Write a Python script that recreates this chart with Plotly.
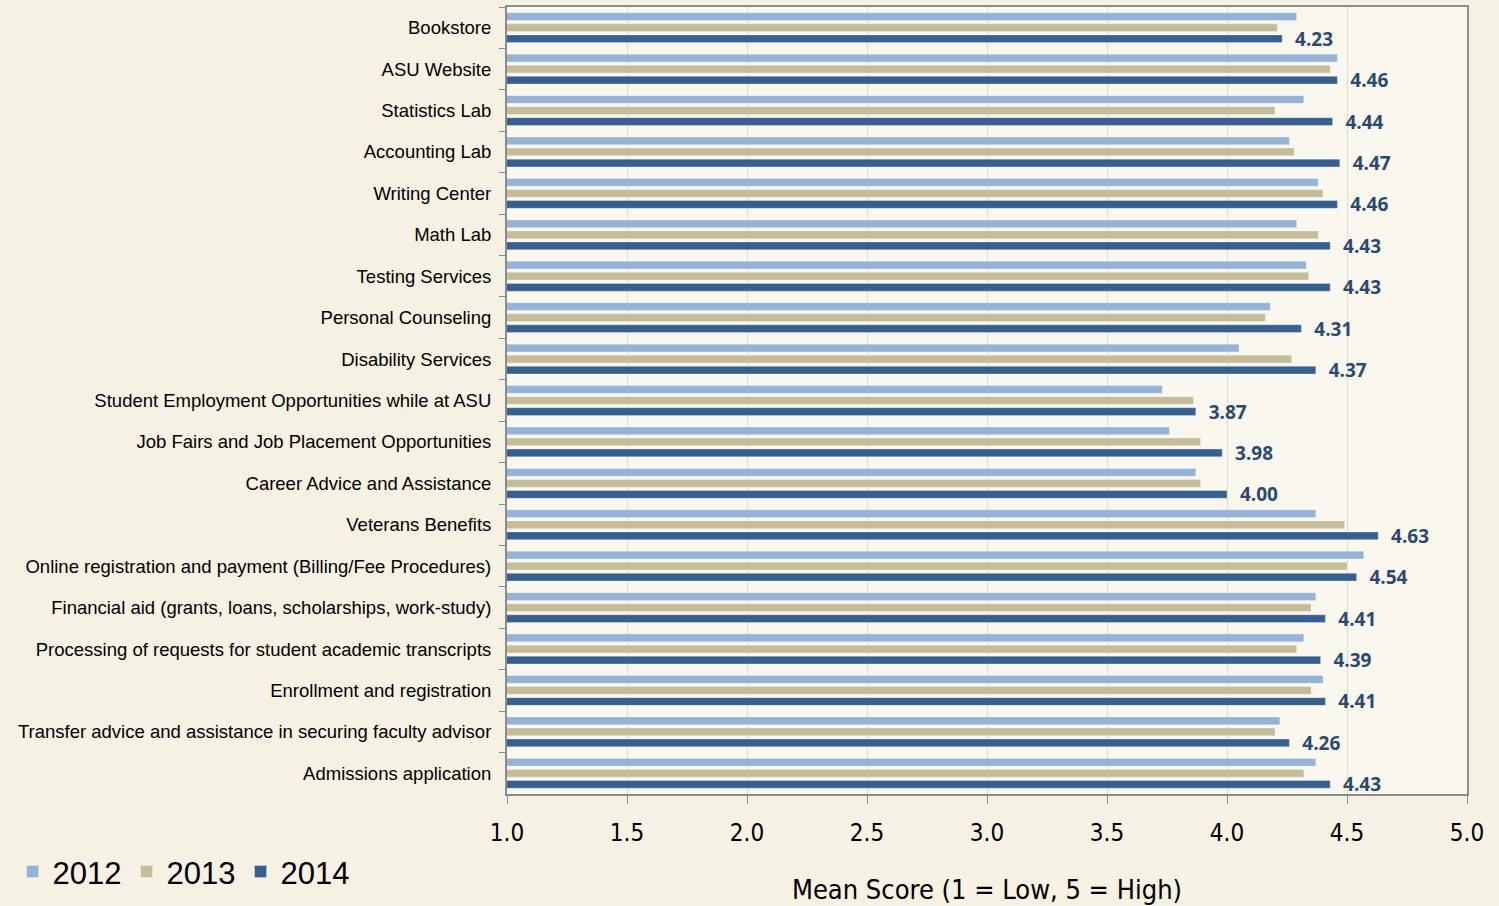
"""Mean satisfaction scores by service, 2012-2014."""

import plotly.graph_objects as go

categories = [
    "Bookstore",
    "ASU Website",
    "Statistics Lab",
    "Accounting Lab",
    "Writing Center",
    "Math Lab",
    "Testing Services",
    "Personal Counseling",
    "Disability Services",
    "Student Employment Opportunities while at ASU",
    "Job Fairs and Job Placement Opportunities",
    "Career Advice and Assistance",
    "Veterans Benefits",
    "Online registration and payment (Billing/Fee Procedures)",
    "Financial aid (grants, loans, scholarships, work-study)",
    "Processing of requests for student academic transcripts",
    "Enrollment and registration",
    "Transfer advice and assistance in securing faculty advisor",
    "Admissions application",
]

scores_2012 = [4.29, 4.46, 4.32, 4.26, 4.38, 4.29, 4.33, 4.18, 4.05, 3.73,
               3.76, 3.87, 4.37, 4.57, 4.37, 4.32, 4.40, 4.22, 4.37]
scores_2013 = [4.21, 4.43, 4.20, 4.28, 4.40, 4.38, 4.34, 4.16, 4.27, 3.86,
               3.89, 3.89, 4.49, 4.50, 4.35, 4.29, 4.35, 4.20, 4.32]
scores_2014 = [4.23, 4.46, 4.44, 4.47, 4.46, 4.43, 4.43, 4.31, 4.37, 3.87,
               3.98, 4.00, 4.63, 4.54, 4.41, 4.39, 4.41, 4.26, 4.43]

x_ticks = [1.0, 1.5, 2.0, 2.5, 3.0, 3.5, 4.0, 4.5, 5.0]

series = [
    ("2012", scores_2012, "#95b3d7"),
    ("2013", scores_2013, "#c4bd97"),
    ("2014", scores_2014, "#366092"),
]

narrow = "DejaVu Sans Condensed, Liberation Sans Narrow, sans-serif"

fig = go.Figure()
for name, values, color in series:
    bar = dict(
        y=categories,
        x=values,
        name=name,
        orientation="h",
        marker_color=color,
        marker_line=dict(color="rgba(255,255,255,0.6)", width=0.5),
        base=0,
    )
    if name == "2014":
        bar.update(
            text=["\u00a0\u00a0%.2f" % v for v in values],
            textposition="outside",
            constraintext="none",
            cliponaxis=False,
            textfont=dict(family="Open Sans, sans-serif", size=19, weight=700, color="#2b4a72"),
        )
    fig.add_trace(go.Bar(**bar))

fig.update_layout(
    width=1499,
    height=906,
    barmode="group",
    bargap=0.2,
    bargroupgap=0.3,
    paper_bgcolor="#f5f1e3",
    plot_bgcolor="#f9f7ee",
    margin=dict(l=507, r=32, t=7, b=112, autoexpand=False),
    font=dict(family="Liberation Sans, Arial, sans-serif", color="#000000"),
    showlegend=True,
    legend=dict(
        orientation="h",
        x=-0.515,
        xanchor="left",
        y=-0.099,
        yanchor="middle",
        font=dict(size=31, family="Liberation Sans, Arial, sans-serif"),
        itemwidth=30,
        bgcolor="rgba(0,0,0,0)",
    ),
)

fig.update_xaxes(
    range=[1.0, 5.0],
    automargin=False,
    tickvals=x_ticks,
    ticktext=["%.1f" % t for t in x_ticks],
    tickfont=dict(size=24, family=narrow),
    ticks="outside",
    ticklen=8,
    tickcolor="#8c8c8c",
    ticklabelstandoff=8,
    showline=True,
    linecolor="#8c8c8c",
    linewidth=2,
    mirror=True,
    showgrid=True,
    gridcolor="#dddbd2",
    gridwidth=1,
    zeroline=False,
    title=dict(
        text="Mean Score (1 = Low, 5 = High)",
        font=dict(size=27, family=narrow),
        standoff=34,
    ),
)

fig.update_yaxes(
    autorange="reversed",
    automargin=False,
    tickson="boundaries",
    ticks="outside",
    ticklen=6,
    tickcolor="#8c8c8c",
    showline=True,
    linecolor="#8c8c8c",
    linewidth=2,
    mirror=True,
    showgrid=False,
    ticklabelstandoff=10,
    tickfont=dict(size=18.5, family="Liberation Sans, Arial, sans-serif"),
)

fig.write_html(
    "out.html",
    config={"displayModeBar": False},
    post_script="document.body.style.margin='0';document.body.style.background='#f5f1e3';",
)
